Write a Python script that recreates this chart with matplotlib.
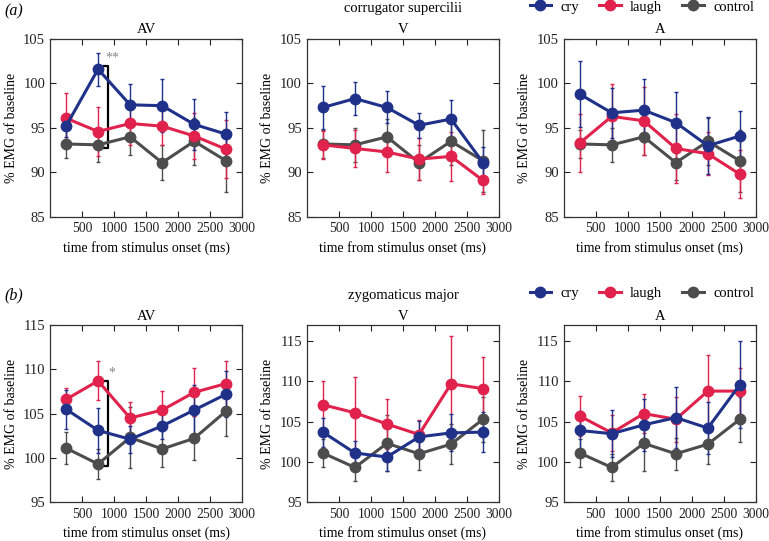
import matplotlib
matplotlib.use('Agg')
import matplotlib.pyplot as plt
from matplotlib.lines import Line2D
import numpy as np

plt.rcParams['font.family'] = ['Liberation Serif', 'DejaVu Serif']
plt.rcParams['font.size'] = 10

# ─────────────────────────────────────────────────────────────
# Data
# ─────────────────────────────────────────────────────────────
times = [250, 750, 1250, 1750, 2250, 2750]
conditions = ["AV", "V", "A"]

# corrugator supercilii
corr_cry = {
    "AV": [95.2, 101.6, 97.6, 97.5, 95.4, 94.3],
    "V":  [97.3, 98.3, 97.3, 95.3, 96.0, 91.1],
    "A":  [98.8, 96.7, 97.0, 95.6, 93.0, 94.1],
}
corr_cry_err = {
    "AV": [1.2, 1.85, 2.35, 2.95, 2.85, 2.5],
    "V":  [2.4, 1.9, 1.8, 1.4, 2.15, 1.8],
    "A":  [3.7, 2.8, 3.55, 3.4, 3.2, 2.85],
}
corr_laugh = {
    "AV": [96.1, 94.6, 95.5, 95.2, 94.1, 92.6],
    "V":  [93.1, 92.7, 92.3, 91.5, 91.8, 89.1],
    "A":  [93.3, 96.3, 95.8, 92.7, 92.1, 89.8],
}
corr_laugh_err = {
    "AV": [2.85, 2.7, 2.4, 2.15, 2.6, 3.25],
    "V":  [1.6, 2.05, 2.2, 2.35, 2.8, 1.55],
    "A":  [3.25, 3.6, 3.85, 3.9, 2.4, 2.7],
}
corr_control = [93.2, 93.1, 94.0, 91.1, 93.5, 91.3]
corr_control_err = [1.6, 1.9, 2.05, 2.0, 2.65, 3.5]

# zygomaticus major
zyg_cry = {
    "AV": [105.5, 103.1, 102.1, 103.6, 105.4, 107.2],
    "V":  [103.7, 101.1, 100.6, 103.1, 103.6, 103.7],
    "A":  [103.9, 103.5, 104.6, 105.5, 104.2, 109.6],
}
zyg_cry_err = {
    "AV": [2.2, 2.5, 1.5, 1.5, 2.8, 2.6],
    "V":  [1.8, 1.55, 1.8, 2.0, 2.3, 2.5],
    "A":  [2.4, 2.95, 3.2, 3.8, 3.2, 5.4],
}
zyg_laugh = {
    "AV": [106.6, 108.7, 104.5, 105.4, 107.4, 108.4],
    "V":  [107.1, 106.1, 104.7, 103.4, 109.7, 109.1],
    "A":  [105.7, 103.6, 106.0, 105.3, 108.8, 108.8],
}
zyg_laugh_err = {
    "AV": [1.3, 2.2, 1.85, 2.1, 2.7, 2.6],
    "V":  [2.9, 4.5, 3.1, 1.8, 6.0, 4.0],
    "A":  [2.5, 2.25, 2.4, 2.8, 4.5, 2.9],
}
zyg_control = [101.1, 99.3, 102.3, 101.0, 102.2, 105.3]
zyg_control_err = [1.8, 1.7, 3.5, 2.0, 2.5, 2.8]

COL_CRY = '#1f3189'
COL_LAUGH = '#e0224c'
COL_CTRL = '#4d4d4d'

# axes geometry (figure fractions)
LEFTS = [0.065, 0.399, 0.733]
WIDTH = 0.250
ROWS = {"a": (0.599, 0.329), "b": (0.072, 0.327)}
LETTER_Y = {"a": 0.994, "b": 0.468}


def draw_series(ax, y, err, color):
    ax.errorbar(times, y, yerr=err, color=color, lw=2.2, marker='o', ms=7.5,
                elinewidth=1.0, capsize=1.5, capthick=1.0)


def style_axes(ax, ylim, yticks):
    ax.set_xlim(0, 3000)
    ax.set_ylim(*ylim)
    ax.set_xticks([500, 1000, 1500, 2000, 2500, 3000])
    ax.set_yticks(yticks)
    ax.tick_params(direction='in', top=True, right=True, length=4, width=0.8,
                   colors='#222222')
    ax.tick_params(axis='x', labelsize=9.8, pad=4)
    ax.tick_params(axis='y', labelsize=10.5)
    for sp in ax.spines.values():
        sp.set_color('#333333')
        sp.set_linewidth(0.9)
    ax.set_xlabel('time from stimulus onset (ms)', fontsize=10, labelpad=4)
    ax.set_ylabel('% EMG of baseline', fontsize=10, labelpad=4)


def bracket(ax, x, y0, y1, stars):
    ax.plot([x - 60, x, x, x - 60], [y0, y0, y1, y1], color='black', lw=1.6)
    ax.text(x + 60, y1 + 0.1, stars, color='#888888', fontsize=10,
            ha='center', va='bottom')


fig = plt.figure(figsize=(7.69, 5.41), dpi=100)

panels = [
    ("a", "corrugator supercilii", corr_cry, corr_cry_err, corr_laugh, corr_laugh_err,
     corr_control, corr_control_err),
    ("b", "zygomaticus major", zyg_cry, zyg_cry_err, zyg_laugh, zyg_laugh_err,
     zyg_control, zyg_control_err),
]

legend_handles = [
    Line2D([], [], color=COL_CRY, lw=2.2, marker='o', ms=7.5),
    Line2D([], [], color=COL_LAUGH, lw=2.2, marker='o', ms=7.5),
    Line2D([], [], color=COL_CTRL, lw=2.2, marker='o', ms=7.5),
]

for key, muscle, cry, cry_e, laugh, laugh_e, ctrl, ctrl_e in panels:
    bottom, height = ROWS[key]
    axes = []
    for i, cond in enumerate(conditions):
        ax = fig.add_axes([LEFTS[i], bottom, WIDTH, height])
        draw_series(ax, ctrl, ctrl_e, COL_CTRL)
        draw_series(ax, laugh[cond], laugh_e[cond], COL_LAUGH)
        draw_series(ax, cry[cond], cry_e[cond], COL_CRY)
        ax.set_title(cond, fontsize=10.5, pad=4)
        if key == "a":
            style_axes(ax, (85, 105), [85, 90, 95, 100, 105])
        else:
            ylim = (95, 115) if cond == "AV" else (95, 117)
            style_axes(ax, ylim, [95, 100, 105, 110, 115])
        axes.append(ax)

    # muscle name above the middle panel
    axes[1].text(0.5, 1.17, muscle, transform=axes[1].transAxes, ha='center',
                 va='center', fontsize=10.5)
    # panel letter
    fig.text(0.006, LETTER_Y[key], f'({key})', fontsize=11.5,
             style='italic', va='top')

    # legend over the right panel
    axes[2].legend(legend_handles, ['cry', 'laugh', 'control'], ncol=3,
                   loc='center right', bbox_to_anchor=(0.99, 1.18), frameon=False,
                   fontsize=10.5, handlelength=1.5, columnspacing=1.4,
                   handletextpad=0.6, borderaxespad=0.0, borderpad=0.0)

    # significance brackets on AV panel
    if key == "a":
        bracket(axes[0], 910, 92.7, 102.0, '**')
    else:
        bracket(axes[0], 910, 99.1, 108.7, '*')

fig.savefig('out.png', dpi=100)
